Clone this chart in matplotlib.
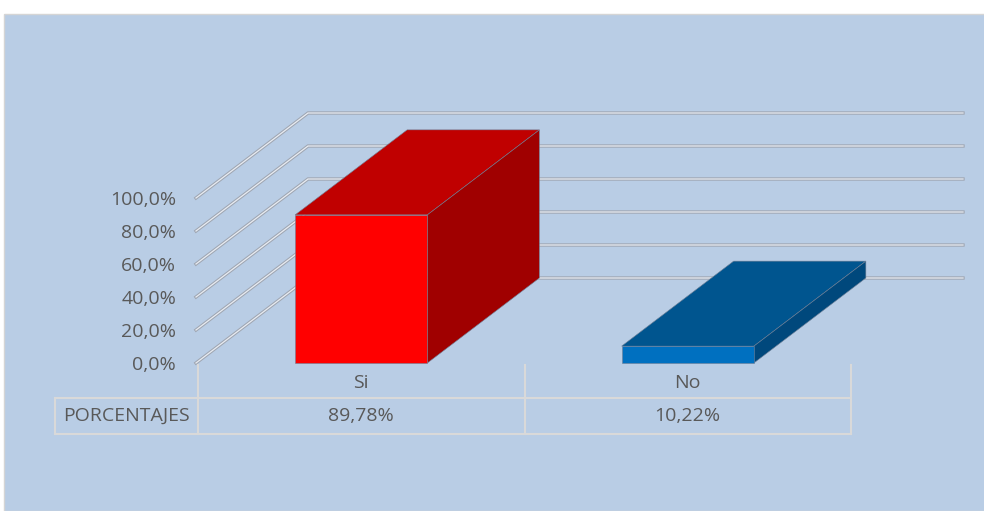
import matplotlib
matplotlib.use("Agg")
import matplotlib.pyplot as plt
from matplotlib.patches import Polygon, Rectangle
from matplotlib.lines import Line2D

categories = ["Si", "No"]
values = [0.8978, 0.1022]
value_labels = ["89,78%", "10,22%"]
row_label = "PORCENTAJES"
y_ticks = [0.0, 0.2, 0.4, 0.6, 0.8, 1.0]
y_tick_labels = ["0,0%", "20,0%", "40,0%", "60,0%", "80,0%", "100,0%"]

front_colors = ["#FF0000", "#0070C0"]
top_colors = ["#C00000", "#00558F"]
side_colors = ["#A00000", "#00487C"]

W, H = 984, 511
DX, DY = 112, 85          # oblique depth offset in pixels
BAR_W = 0.405
FS = 14
panel_bg = "#B9CDE5"
text_col = "#595959"
grid_dark = "#9FA6B2"
grid_light = "#E8ECF2"
table_col = "#D9D9D9"

plt.rcParams['font.family'] = ['Open Sans', 'DejaVu Sans']

fig = plt.figure(figsize=(W / 100, H / 100), dpi=100)
fig.patch.set_facecolor("white")

# Background panel
fig.patches.append(Rectangle((4 / W, 0), 1, (H - 14) / H, transform=fig.transFigure,
                             facecolor=panel_bg, edgecolor="#D5D5D5", lw=1, zorder=0))

ax = fig.add_axes([198 / W, (H - 363) / H, (851 - 198) / W, (363 - 198) / H])
ax.set_xlim(-0.5, len(categories) - 0.5)
ax.set_ylim(0, 1)
ax.axis("off")
ax.patch.set_visible(False)


def disp(x, y):
    return ax.transData.transform((x, y))


def draw_poly(pts, **kw):
    p = Polygon(pts, closed=True, transform=None, **kw)
    fig.patches.append(p)
    return p


# Oblique gridlines: front diagonal then along the back wall
x_left = ax.get_xlim()[0]
x_right = ax.get_xlim()[1]
for t, lab in zip(y_ticks, y_tick_labels):
    fx, fy = disp(x_left, t)
    fx -= 2
    bx, by = fx + DX, fy + DY
    ex = disp(x_right, t)[0] + DX
    for c, lw in ((grid_dark, 2.4), (grid_light, 0.9)):
        fig.lines.append(Line2D([fx, bx, ex], [fy, by, by], transform=None,
                                color=c, lw=lw, solid_joinstyle="miter", zorder=1))
    fig.text(fx - 20, fy - 2, lab, transform=None, ha="right", va="center",
             fontsize=FS, color=text_col)

# 3D bars
for i, (v, fc, tc, sc) in enumerate(zip(values, front_colors, top_colors, side_colors)):
    x0, x1 = i - BAR_W / 2, i + BAR_W / 2
    bl = disp(x0, 0)
    br = disp(x1, 0)
    tl = disp(x0, v)
    tr = disp(x1, v)
    off = (DX, DY)
    ek = dict(edgecolor="#6F7F95", lw=0.4, zorder=3)
    draw_poly([tl, tr, (tr[0] + off[0], tr[1] + off[1]), (tl[0] + off[0], tl[1] + off[1])],
              facecolor=tc, **ek)
    draw_poly([br, tr, (tr[0] + off[0], tr[1] + off[1]), (br[0] + off[0], br[1] + off[1])],
              facecolor=sc, **ek)
    draw_poly([bl, br, tr, tl], facecolor=fc, **ek)

# Data table under the plot
def py(y):
    return H - y

row1_top, row1_bot, row2_bot = 365, 398, 434
tbl_left = 55
edges = [disp(x_left, 0)[0], disp(0.5, 0)[0], disp(x_right, 0)[0]]
for y in (row1_bot, row2_bot):
    fig.lines.append(Line2D([tbl_left, edges[-1]], [py(y), py(y)], transform=None,
                            color=table_col, lw=1.5, zorder=2))
fig.lines.append(Line2D([tbl_left, tbl_left], [py(row1_bot), py(row2_bot)], transform=None,
                        color=table_col, lw=1.5, zorder=2))
for ex in edges:
    fig.lines.append(Line2D([ex, ex], [py(row1_top), py(row2_bot)], transform=None,
                            color=table_col, lw=1.5, zorder=2))

for i, (cat, vl) in enumerate(zip(categories, value_labels)):
    cx = disp(i, 0)[0]
    fig.text(cx, py((row1_top + row1_bot) / 2 + 1), cat, transform=None,
             ha="center", va="center", fontsize=FS, color=text_col)
    fig.text(cx, py((row1_bot + row2_bot) / 2), vl, transform=None,
             ha="center", va="center", fontsize=FS, color=text_col)
fig.text((tbl_left + edges[0]) / 2, py((row1_bot + row2_bot) / 2), row_label,
         transform=None, ha="center", va="center", fontsize=FS, color=text_col)

fig.savefig("out.png", dpi=100, facecolor=fig.get_facecolor())
